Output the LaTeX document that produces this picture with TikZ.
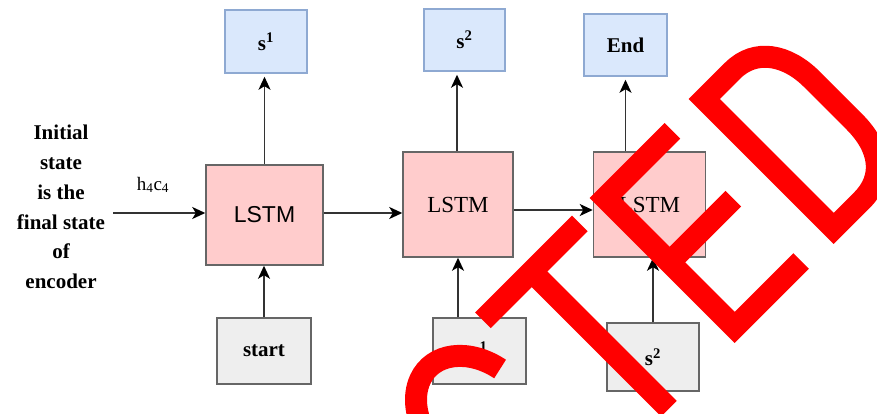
\documentclass[tikz,border=0pt]{standalone}
\usepackage{fontspec}
\setmainfont{Liberation Serif}
\newfontfamily\arialfont{Liberation Sans}
\usetikzlibrary{arrows.meta}

\definecolor{outfill}{HTML}{DAE8FC}
\definecolor{outline}{HTML}{8EA9D2}
\definecolor{cellfill}{HTML}{FFCCCC}
\definecolor{infill}{HTML}{EEEEEE}
\definecolor{boxline}{HTML}{666666}
\definecolor{wire}{HTML}{333333}
\definecolor{stamp}{HTML}{FF0000}

\tikzset{
  outbox/.style={draw=outline, fill=outfill, line width=1.5pt, inner sep=0pt,
    font=\fontsize{21}{25}\selectfont\bfseries},
  cellbox/.style={draw=boxline, fill=cellfill, line width=1.5pt, inner sep=0pt,
    font=\fontsize{23}{27}\selectfont},
  inbox/.style={draw=boxline, fill=infill, line width=1.5pt, inner sep=0pt,
    font=\fontsize{21}{25}\selectfont\bfseries},
  wirearrow/.style={draw=wire, line width=1.6pt,
    -{Stealth[length=13pt,width=12pt,inset=3.5pt,color=black]}},
  stampline/.style={draw=stamp, line width=22pt, line join=miter, line cap=butt},
}

\begin{document}
\begin{tikzpicture}[x=1pt, y=-1pt]
  \useasboundingbox (0,0) rectangle (877,414);
  \fill[white] (0,0) rectangle (877,414);

  % output tokens
  \node[outbox, minimum width=82pt, minimum height=63pt] (s1) at (266,41.5) {s\textsuperscript{1}};
  \node[outbox, minimum width=81pt, minimum height=62pt] (s2) at (464.5,40) {s\textsuperscript{2}};
  \node[outbox, minimum width=83pt, minimum height=62pt] (end) at (625.5,45) {End};

  % LSTM cells
  \node[cellbox, minimum width=117pt, minimum height=100pt] (lstm1) at (264.5,215) {\arialfont LSTM};
  \node[cellbox, minimum width=110pt, minimum height=105pt] (lstm2) at (458,204.5) {LSTM};
  \node[cellbox, minimum width=112pt, minimum height=105pt] (lstm3) at (649.5,204.5) {LSTM};

  % input tokens
  \node[inbox, minimum width=94pt, minimum height=66pt] (start) at (264,351) {start};
  \node[inbox, minimum width=93pt, minimum height=66pt] (in2) at (479.5,351) {s\textsuperscript{1}};
  \node[inbox, minimum width=92pt, minimum height=68pt] (in3) at (653,357) {s\textsuperscript{2}};

  % encoder state
  \node[align=center, font=\fontsize{21}{29.8}\selectfont\bfseries] (init) at (61,207)
    {Initial\\state\\is the\\final state\\of\\encoder};
  \node[font=\fontsize{19}{22}\selectfont] (hc) at (153,185) {h\textsubscript{4}c\textsubscript{4}};
  \coordinate (feed) at (113,213);

  % connectors
  \draw[wirearrow] (feed) -- (feed -| lstm1.west);
  \draw[wirearrow] ([yshift=2pt]lstm1.east) -- ([yshift=2pt]lstm1.east -| lstm2.west);
  \draw[wirearrow] ([yshift=-5.5pt]lstm2.east) -- ([yshift=-5.5pt]lstm2.east -| lstm3.west);

  \draw[wirearrow, shorten >=3pt] (lstm1.north) -- (lstm1.north |- s1.south);
  \draw[wirearrow, shorten >=3pt] ([xshift=-1pt]lstm2.north) -- ([xshift=-1pt]lstm2.north |- s2.south);
  \draw[wirearrow, shorten >=3pt] (end.south |- lstm3.north) -- (end.south);

  \draw[wirearrow] (start.north) -- (start.north |- lstm1.south);
  \draw[wirearrow] (lstm2.south |- in2.north) -- (lstm2.south);
  \draw[wirearrow] (in3.north) -- (in3.north |- lstm3.south);

  % red stamp lettering, set along a 45 degree baseline
  \begin{scope}
    \clip (0,0) rectangle (877,414);
    \begin{scope}[x={(0.7071pt,0.7071pt)}, y={(-0.7071pt,0.7071pt)}]
      % C (upper bowl only; the rest lies below the frame)
      \draw[stampline] (92.66,-614.53) arc[start angle=15.3, end angle=200, x radius=52, y radius=70];
      % T
      \draw[stampline] (115,-568) -- (252,-568);
      \draw[stampline] (184,-568) -- (184,-762);
      % E
      \draw[stampline] (383,-568) -- (288,-568) -- (288,-751) -- (382,-751);
      \draw[stampline] (288,-659) -- (378,-659);
      % D
      \draw[stampline] (428,-568) -- (468,-568) .. controls (500,-568) and (518,-595) .. (518,-630)
        -- (518,-690) .. controls (518,-728) and (500,-751) .. (468,-751) -- (428,-751) -- cycle;
    \end{scope}
  \end{scope}
\end{tikzpicture}
\end{document}
